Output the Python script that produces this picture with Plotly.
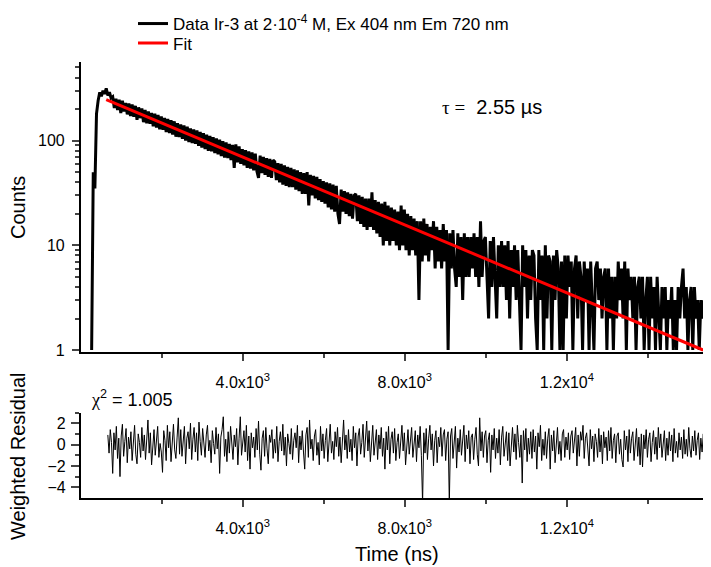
import plotly.graph_objects as go

# Decay histogram: rise channels, then counts per 40 ns channel from 790 ns
rise_t = [270, 310, 350, 390, 430, 470, 510, 550, 590, 630, 670, 710, 750]
rise_counts = [1, 50, 35, 180, 240, 290, 265, 300, 280, 315, 270, 290, 255]

DECAY_T0 = 790
DECAY_DT = 40
decay_counts = [
    262, 205, 251, 196, 246, 183, 240, 190, 229, 178,
    226, 172, 221, 169, 215, 158, 208, 164, 203, 150,
    196, 146, 190, 145, 184, 137, 181, 133, 176, 128,
    170, 127, 165, 121, 161, 118, 157, 114, 153, 109,
    147, 108, 143, 104, 140, 100, 136, 97, 131, 95,
    128, 93, 125, 89, 121, 86, 118, 83, 114, 80,
    111, 79, 108, 76, 105, 74, 102, 71, 99, 69,
    96, 68, 93, 65, 91, 55, 92, 62, 88, 60,
    83, 58, 81, 55, 79, 54, 77, 52, 75, 51,
    44, 72, 49, 70, 47, 68, 45, 67, 44, 65,
    63, 42, 61, 40, 60, 38, 58, 37, 56, 36,
    55, 36, 53, 34, 52, 33, 50, 31, 49, 31,
    50, 24, 47, 30, 46, 28, 45, 27, 43, 26,
    41, 25, 40, 23, 39, 22, 38, 21, 37, 20,
    16, 34, 21, 33, 20, 32, 19, 31, 18, 30,
    31, 17, 30, 16, 29, 15, 28, 14, 28, 15,
    32, 14, 27, 13, 26, 12, 25, 10, 26, 11,
    24, 10, 23, 11, 22, 10, 21, 9, 24, 10,
    22, 9, 20, 8, 19, 9, 18, 8, 17, 3,
    17, 7, 18, 8, 16, 7, 15, 9, 17, 6,
    15, 7, 14, 6, 16, 7, 14, 1, 13, 6,
    14, 6, 4, 13, 5, 12, 3, 13, 5, 12,
    5, 12, 6, 13, 5, 12, 4, 17, 5, 11,
    12, 5, 2, 11, 4, 12, 5, 2, 10, 4,
    11, 4, 10, 3, 11, 2, 9, 4, 10, 3,
    9, 3, 1, 10, 4, 9, 2, 8, 3, 9,
    8, 2, 1, 9, 3, 8, 1, 10, 2, 8,
    7, 1, 8, 3, 9, 6, 1, 7, 1, 8,
    2, 8, 4, 7, 1, 6, 8, 2, 7, 5,
    1, 7, 3, 6, 1, 7, 2, 1, 6, 7,
    3, 6, 2, 5, 6, 1, 6, 2, 5, 1,
    5, 2, 7, 3, 6, 2, 7, 1, 6, 3,
    5, 2, 5, 1, 4, 5, 2, 5, 1, 3,
    5, 1, 5, 2, 4, 1, 5, 2, 1, 4,
    2, 4, 1, 3, 2, 4, 1, 3, 1, 4,
    2, 4, 6, 2, 4, 1, 3, 4, 1, 4,
    2, 3, 1, 3, 2, 3, 1, 3, 2, 1,
]

# single exponential fit, end points (ns, counts)
fit_t = [630, 15365]
fit_counts = [246, 1.0]

# weighted residuals, 30 ns steps starting at 670 ns
RES_T0 = 670
RES_DT = 30
residuals = [
    0.9, -0.8, 1.4, 0.2, -2.7, 1.1, -0.5, 1.7, -1.3, 0.6,
    -3.0, 0.8, 1.9, -1.1, 0.3, 1.5, -1.7, 0.7, -0.4, 1.2,
    -1.5, 0.5, 1.8, -0.9, -1.8, 1.0, 0.2, -1.2, 1.6, -0.6,
    0.9, -1.4, 0.4, 2.3, -0.8, 1.1, -1.9, 0.3, 1.4, -1.0,
    0.6, 1.7, -1.2, 0.1, -0.7, -2.6, 1.3, 0.4, -1.5, 1.8,
    -0.3, 1.2, -1.6, 0.8, 1.9, -0.5, -1.3, 0.7, 2.5, -0.9,
    1.4, -1.1, 0.2, 1.7, -1.8, 0.6, 1.2, -0.4, 2.0, -1.4,
    0.5, 1.6, -0.7, 1.1, -1.5, 2.1, 0.3, -1.0, 1.5, -0.2,
    -1.2, 0.9, 1.8, -0.6, 0.4, -1.7, 1.3, 0.1, -0.9, 1.6,
    -0.4, 1.0, -2.7, 0.7, 1.4, 2.6, -1.1, 0.5, -1.6, 1.2,
    -0.8, 1.7, 0.3, -1.4, 0.9, -0.2, 1.5, -1.9, 0.6, 2.6,
    -1.0, 0.4, 1.3, -0.7, 1.8, -1.5, 0.8, -2.3, 1.1, -0.3,
    0.7, -1.2, 1.5, -0.5, 2.2, -0.9, -2.4, 0.6, 1.3, -1.1,
    1.6, -0.4, -1.8, 0.9, 0.2, 1.4, -1.3, 0.5, -0.8, 1.7,
    -1.6, 0.3, 1.2, -0.6, 1.9, -1.0, 0.7, -2.0, 1.0, 0.1,
    -0.9, 1.5, -1.4, 0.4, 1.1, -0.3, 1.8, -1.7, 0.8, -0.5,
    1.3, -0.7, -2.3, 0.9, 1.6, -1.2, 2.3, -0.4, 0.5, -1.5,
    0.8, 1.4, -1.0, 0.2, -1.9, 1.7, -0.6, 1.0, -1.3, 0.4,
    1.5, -1.6, 0.6, 1.9, -0.8, 0.3, -1.4, 1.2, -0.2, 1.6,
    -1.1, 0.7, -1.7, 1.0, 2.3, -0.5, 0.9, -1.3, 1.4, -0.7,
    0.5, -1.5, 1.7, -0.3, 1.1, -2.0, 0.8, 1.5, -0.9, 0.2,
    1.9, -1.2, 0.4, 2.2, -0.6, 1.3, -1.6, 0.7, 1.8, -1.0,
    0.3, 1.4, -1.4, 0.9, -0.4, 1.6, -1.1, 0.6, -2.3, 1.2,
    -0.5, 1.7, -1.8, 0.5, 1.2, -0.8, 1.5, -1.5, 0.2, 1.0,
    -1.3, 0.8, 1.8, -0.6, 1.1, -1.9, 0.4, 1.4, -0.9, 0.7,
    1.6, -1.2, 0.3, 1.3, -1.6, 0.9, -0.3, 1.7, -1.0, -5.5,
    1.1, -0.8, 1.5, -1.4, 0.6, 1.8, -0.5, 1.0, -2.0, 0.4,
    1.3, -1.7, 0.7, -0.2, 1.6, -1.1, 0.9, 1.4, -1.5, 0.5,
    1.2, -5.5, 0.8, 1.5, -1.3, 0.4, 1.7, -2.2, 0.6, -0.7,
    1.4, -1.0, 0.3, 1.8, -1.6, 0.9, -0.4, 1.3, -1.8, 0.7,
    1.0, -1.4, 0.5, 1.6, -0.9, -2.0, 2.5, -0.6, 1.2, -1.2,
    0.8, 1.3, -1.7, 0.4, 1.1, -2.6, 0.9, -0.5, 1.5, -1.3,
    0.6, -0.8, 1.4, -1.9, 0.7, 1.7, -1.1, 0.3, 1.2, -1.5,
    1.1, -2.0, 0.5, 1.6, -0.7, 1.0, -1.4, 1.8, 0.2, -1.2,
    0.9, -3.6, 1.3, -0.5, 1.5, -1.6, 0.6, -0.9, 1.2, -1.3,
    1.4, -0.7, 0.8, -2.3, 1.1, -0.2, 1.8, -1.5, 0.5, -1.0,
    1.2, -1.3, 0.6, 1.5, -2.3, 0.9, -0.6, 1.3, -1.7, 0.4,
    1.6, -0.9, 0.3, -1.5, 1.0, 1.4, -1.2, 0.7, -0.5, 1.1,
    -1.4, 0.8, 1.3, -0.8, 0.5, 1.6, -2.0, 0.9, -1.1, 1.2,
    0.4, 1.8, -1.3, 0.6, 1.1, -0.9, -2.0, 1.4, -0.4, 0.8,
    -1.6, 1.0, 0.3, -1.2, 1.5, -0.7, 0.9, -1.8, 1.2, -0.3,
    0.7, -1.5, 1.3, -0.6, 1.6, -1.3, 0.4, 1.0, -1.7, 0.8,
    1.1, -0.9, 0.5, -1.4, -2.1, 1.3, -0.5, 0.8, -1.6, 1.4,
    -0.8, 0.6, 1.2, -1.5, 0.3, 1.5, -1.1, 0.7, -1.9, 1.0,
    -2.1, 0.9, -0.4, 1.4, -1.2, 0.5, 1.1, -1.6, 0.2, 1.3,
    -0.9, 0.7, -1.4, 1.6, -0.3, 1.0, -1.2, 0.4, 1.3, -1.5,
    0.6, -1.0, 1.2, -0.6, 0.9, -1.6, 1.5, -0.8, 0.3, -1.2,
    1.1, -0.5, 0.7, -1.3, 1.4, -0.9, 0.5, -1.1, 1.6, -0.4,
    -1.2, 0.8, -0.6, 1.3, -1.0, 0.4, 1.1, -1.4, 0.6, -0.7,
    1.0, -1.1, 0.5, -0.8, 1.2, -0.5, 0.7, -1.0, 0.3, 0.6,
]

x_ticks = [4000, 8000, 12000]
x_ticktext = ["4.0x10<sup>3</sup>", "8.0x10<sup>3</sup>", "1.2x10<sup>4</sup>"]
x_minor = [2000, 6000, 10000, 14000]

time_ns = rise_t + [DECAY_T0 + i * DECAY_DT for i in range(len(decay_counts))]
counts = rise_counts + decay_counts
res_time = [RES_T0 + i * RES_DT for i in range(len(residuals))]

FONT = "Arial, Liberation Sans, sans-serif"
SERIF = "Times New Roman, Liberation Serif, serif"

# the page body has an 8 px margin, so the figure is 8 px smaller each way
W, H, PAGE_OFF = 703, 559, 8


def px(x):
    # page pixel -> paper x
    return (x - PAGE_OFF) / W


def py(y):
    # page pixel -> paper y
    return (H - (y - PAGE_OFF)) / H


fig = go.Figure()

fig.add_trace(go.Scatter(
    x=time_ns, y=counts, mode="lines",
    line=dict(color="black", width=3),
    name="Data Ir-3 at 2·10<sup>-4</sup> M, Ex 404 nm Em 720 nm",
    xaxis="x", yaxis="y", legend="legend",
))
fig.add_trace(go.Scatter(
    x=fit_t, y=fit_counts, mode="lines",
    line=dict(color="red", width=3),
    name="Fit", xaxis="x", yaxis="y", legend="legend2",
))
fig.add_trace(go.Scatter(
    x=res_time, y=residuals, mode="lines",
    line=dict(color="black", width=1),
    showlegend=False, xaxis="x2", yaxis="y2",
))

x_common = dict(
    range=[0, 15560], tickmode="array", tickvals=x_ticks, ticktext=x_ticktext,
    ticks="outside", ticklen=7, tickwidth=1.5, showline=True, linewidth=1.6,
    linecolor="black", showgrid=False, zeroline=False, automargin=False,
    minor=dict(tickmode="array", tickvals=x_minor, ticks="outside", ticklen=4,
               tickwidth=1.5, showgrid=False),
    tickfont=dict(size=16, color="black", family=FONT),
    ticklabelstandoff=8,
)

legend_common = dict(
    xanchor="left", yanchor="middle", x=px(133),
    font=dict(size=17, color="black", family=FONT),
    bgcolor="rgba(0,0,0,0)", borderwidth=0,
)

fig.update_layout(
    width=W, height=H,
    margin=dict(l=0, r=0, t=0, b=0, autoexpand=False),
    plot_bgcolor="white", paper_bgcolor="white",
    font=dict(family=FONT, size=16, color="black"),
    xaxis=dict(domain=[px(80.7), 1.0], anchor="y", **x_common),
    yaxis=dict(
        domain=[py(352), py(62)], anchor="x", type="log",
        range=[-0.019, 2.751], tickmode="array", tickvals=[1, 10, 100],
        ticktext=["1", "10", "100"], ticks="outside", ticklen=7, tickwidth=1.5,
        showline=True, linewidth=1.6, linecolor="black", showgrid=False,
        automargin=False,
        minor=dict(tickmode="array",
                   tickvals=[2, 3, 4, 5, 6, 7, 8, 9, 20, 30, 40, 50, 60, 70, 80, 90,
                             200, 300, 400, 500],
                   ticks="outside", ticklen=4, tickwidth=1.5, showgrid=False),
        tickfont=dict(size=16, color="black", family=FONT),
        ticklabelstandoff=4,
    ),
    xaxis2=dict(domain=[px(80.7), 1.0], anchor="y2", **x_common),
    yaxis2=dict(
        domain=[py(498), py(412.5)], anchor="x2", range=[-5, 3],
        tickmode="array", tickvals=[-4, -2, 0, 2], ticks="outside", ticklen=8,
        tickwidth=1.5, showline=True, linewidth=1.6, linecolor="black",
        showgrid=False, zeroline=False, automargin=False,
        minor=dict(tickmode="array", tickvals=[-3, -1, 1, 3], ticks="outside",
                   ticklen=4, tickwidth=1.5, showgrid=False),
        tickfont=dict(size=16, color="black", family=FONT),
        ticklabelstandoff=2,
    ),
    legend=dict(y=py(24), **legend_common),
    legend2=dict(y=py(43.5), **legend_common),
    showlegend=True,
)

fig.add_annotation(
    text="Counts", xref="paper", yref="paper", x=px(18), y=py(208),
    xanchor="center", yanchor="middle",
    textangle=-90, showarrow=False, font=dict(size=20, family=FONT),
)
fig.add_annotation(
    text="Weighted Residual", xref="paper", yref="paper", x=px(18), y=py(456),
    xanchor="center", yanchor="middle",
    textangle=-90, showarrow=False, font=dict(size=20, family=FONT),
)
fig.add_annotation(
    text="Time (ns)", xref="paper", yref="paper", x=px(397), y=py(554),
    xanchor="center", yanchor="middle",
    showarrow=False, font=dict(size=20, family=FONT),
)
fig.add_annotation(
    text=f'<span style="font-family:{SERIF};font-size:19px">τ =</span>  2.55 µs',
    xref="paper", yref="paper", x=px(440), y=py(107),
    xanchor="left", yanchor="middle", showarrow=False,
    font=dict(size=20, family=FONT),
)
fig.add_annotation(
    text=f'<span style="font-family:{SERIF}">χ</span><sup>2</sup> = 1.005',
    xref="paper", yref="paper", x=px(89), y=py(398),
    xanchor="left", yanchor="middle", showarrow=False,
    font=dict(size=18, family=FONT),
)

fig.write_html("out.html")
